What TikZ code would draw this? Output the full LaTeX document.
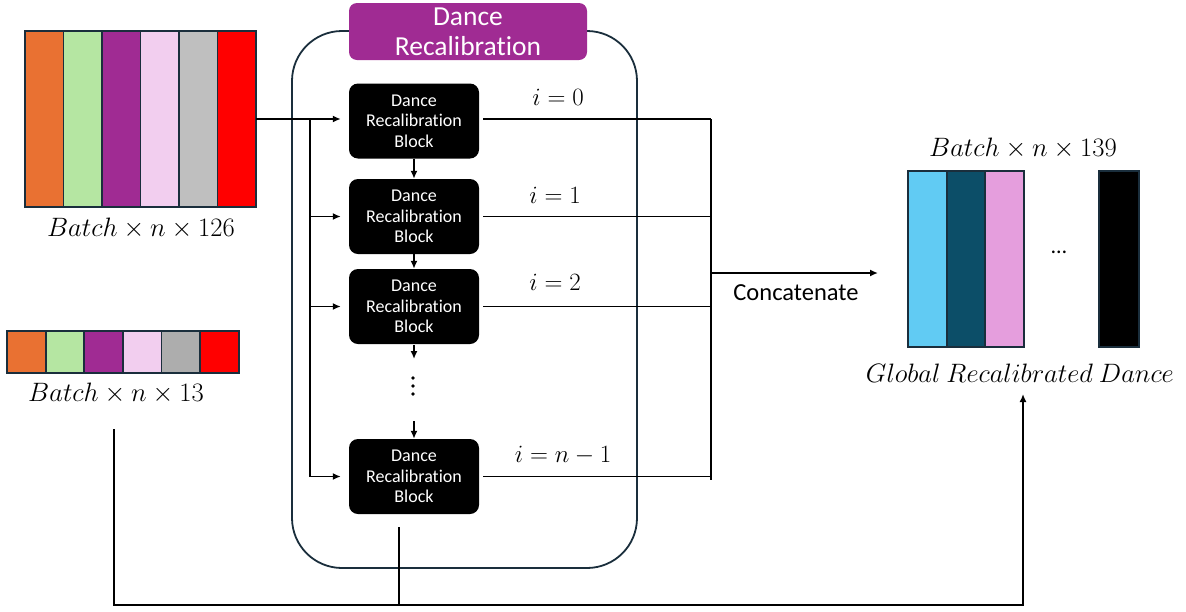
\documentclass[tikz,border=0pt]{standalone}
\usepackage{fontspec}
\setmainfont{Carlito}[Ligatures={NoCommon}]
\usetikzlibrary{arrows.meta}
\definecolor{cOrange}{HTML}{E97132}
\definecolor{cGreen}{HTML}{B5E6A2}
\definecolor{cPurple}{HTML}{A02B93}
\definecolor{cPink}{HTML}{F2CEEF}
\definecolor{cGray}{HTML}{BFBFBF}
\definecolor{cGrayB}{HTML}{ADADAD}
\definecolor{cRed}{HTML}{FF0000}
\definecolor{cCyan}{HTML}{61CBF3}
\definecolor{cTeal}{HTML}{0C4E68}
\definecolor{cRose}{HTML}{E59EDD}
\definecolor{cNavy}{HTML}{1A2E3C}
\newcommand{\mybig}[1]{\scalebox{1.07}{$#1$}}
\begin{document}
\begin{tikzpicture}[x=1pt,y=-1pt,
  cell/.style={draw=cNavy,line width=1.8pt,inner sep=0pt,outer sep=0pt,minimum width=38.5pt},
  container/.style={draw=cNavy,line width=1.8pt,rounded corners=50pt,inner sep=0pt,minimum width=345pt,minimum height=537pt},
  header/.style={fill=cPurple,rounded corners=8pt,text=white,inner sep=0pt,minimum width=238pt,minimum height=57pt,align=center,font=\fontsize{27.5}{30}\selectfont},
  blockbox/.style={fill=black,rounded corners=9pt,text=white,inner sep=0pt,minimum width=130pt,minimum height=75pt,align=center,font=\fontsize{18}{20.5}\selectfont},
  conn/.style={line width=1.8pt},
  arr/.style={conn,-{Latex[length=8pt,width=7pt]}},
  mlbl/.style={inner sep=0pt,font=\fontsize{24.88}{30}\selectfont},
  ilbl/.style={inner sep=0pt,font=\fontsize{23.5}{28}\selectfont},
  txt/.style={inner sep=0pt,font=\fontsize{24.5}{28}\selectfont}
]
\useasboundingbox (0,0) rectangle (1186,611);

% big input tensor
\foreach \c [count=\k from 0] in {cOrange,cGreen,cPurple,cPink,cGray,cRed}
  \node[cell,fill=\c,minimum height=176pt] (a\k) at (44.25+38.5*\k,119) {};
\node[mlbl] (lab126) at (141,228) {\mybig{Batch\times n\times 126}};

% small input tensor
\foreach \c [count=\k from 0] in {cOrange,cGreen,cPurple,cPink,cGrayB,cRed}
  \node[cell,fill=\c,minimum height=42pt,minimum width=38.6pt] (s\k) at (26.3+38.6*\k,352) {};
\node[mlbl] (lab13) at (116,393) {\mybig{Batch\times n\times 13}};

% container
\node[container] (cont) at (464.5,299.5) {};
\node[header] (head) at (468,31.5) {Dance\\Recalibration};

% blocks
\node[blockbox] (b1) at (414,121) {Dance\\Recalibration\\Block};
\node[blockbox] (b2) at (414,216.5) {Dance\\Recalibration\\Block};
\node[blockbox] (b3) at (414,306.5) {Dance\\Recalibration\\Block};
\node[blockbox] (b4) at (414,476.5) {Dance\\Recalibration\\Block};

% vertical dots
\coordinate (vd) at (413,386);
\fill (vd) ++(0,-8) circle (1.9pt);
\fill (vd) circle (1.9pt);
\fill (vd) ++(0,8) circle (1.9pt);
\coordinate (d1) at (414,359);
\coordinate (d2) at (414,421);

% i labels
\node[ilbl] (i0) at (558,97) {$i=0$};
\node[ilbl] (i1) at (555,195) {$i=1$};
\node[ilbl] (i2) at (555,282) {$i=2$};
\node[ilbl] (in) at (563,455) {$i=n-1$};

% output tensor
\node[cell,fill=cCyan,minimum height=176pt,minimum width=38.7pt] (o0) at (927.3,259) {};
\node[cell,fill=cTeal,minimum height=176pt,minimum width=38.7pt] (o1) at (966,259) {};
\node[cell,fill=cRose,minimum height=176pt,minimum width=38.7pt] (o2) at (1004.7,259) {};
\node[cell,fill=black,minimum height=176pt,minimum width=40pt] (o3) at (1119,259) {};
\node[inner sep=0pt,font=\fontsize{22}{22}\selectfont] (hd) at (1059,252) {…};
\node[mlbl] (lab139) at (1023,148) {\mybig{Batch\times n\times 139}};
\node[mlbl] (glob) at (1020,373) {\mybig{Global\ Recalibrated\ Dance}};

% coordinates
\coordinate (split) at (310,119);
\coordinate (col) at (711,119);
\coordinate (colb) at (711,480);
\coordinate (cat) at (711,273);
\coordinate (catend) at (878,273);
\node[txt] (concat) at (796,293) {Concatenate};
\coordinate (q1) at (114,429);
\coordinate (q2) at (114,605);
\coordinate (q3) at (1023,605);
\coordinate (q4) at (1023,394);
\coordinate (r1) at (399,527);
\coordinate (r2) at (399,605);

% input connectors
\draw[arr,shorten >=8pt] (a5.east |- split) -- (split -| b1.west);
\draw[conn] (split) -- (split |- b4.west);
\draw[arr,shorten >=8pt] (split |- b2.west) -- (b2.west);
\draw[arr,shorten >=8pt] (split |- b3.west) -- (b3.west);
\draw[arr,shorten >=8pt] (split |- b4.west) -- (b4.west);

% chain arrows
\draw[arr] (b1.south) -- (b2.north);
\draw[arr] (b2.south) -- (b3.north);
\draw[arr,shorten <=1pt] (b3.south) -- (d1);
\draw[arr] (d2) -- (b4.north);

% output lines
\draw[conn,shorten <=4pt] (b1.east |- split) -- (col);
\draw[conn,shorten <=4pt] (b2.east) -- (b2.east -| col);
\draw[conn,shorten <=4pt] (b3.east) -- (b3.east -| col);
\draw[conn,shorten <=4pt] (b4.east) -- (b4.east -| col);
\draw[conn] (col) -- (colb);
\draw[arr] (cat) -- (catend);

% bottom bypass
\draw[arr] (q1) -- (q2) -- (q3) -- (q4);
\draw[conn] (r1) -- (r2);
\end{tikzpicture}
\end{document}
